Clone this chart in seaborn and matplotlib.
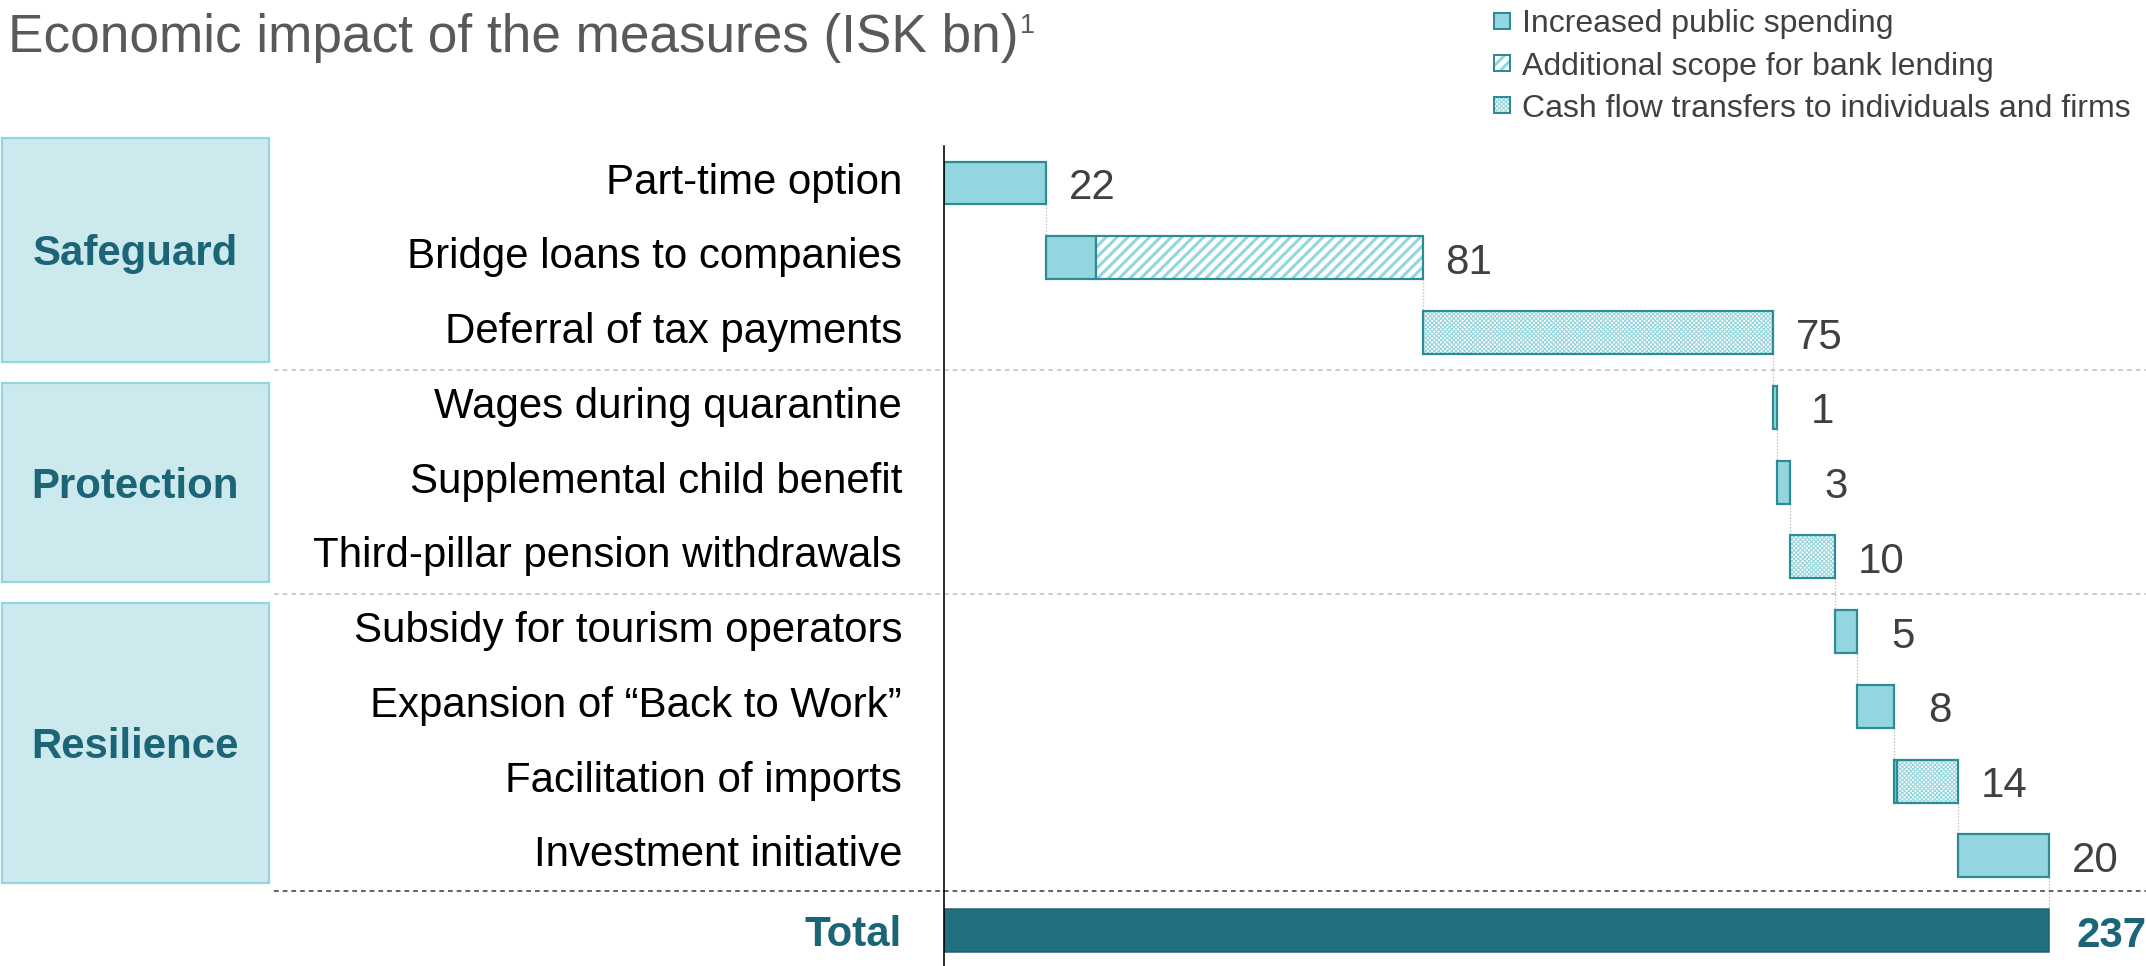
import numpy as np
import pandas as pd
import matplotlib
matplotlib.use("Agg")
import matplotlib.pyplot as plt
import seaborn as sns
from matplotlib.patches import Rectangle
from matplotlib.transforms import blended_transform_factory, ScaledTranslation

# ---------------------------------------------------------------- data (ISK bn)
measures = [
    "Part-time option",
    "Bridge loans to companies",
    "Deferral of tax payments",
    "Wages during quarantine",
    "Supplemental child benefit",
    "Third-pillar pension withdrawals",
    "Subsidy for tourism operators",
    "Expansion of \u201cBack to Work\u201d",
    "Facilitation of imports",
    "Investment initiative",
]
public_spending = [22.0, 10.6, 0.0, 0.8, 2.8, 0.0, 4.7, 7.9, 0.8, 19.6]
bank_lending = [0.0, 70.3, 0.0, 0.0, 0.0, 0.0, 0.0, 0.0, 0.0, 0.0]
cash_transfers = [0.0, 0.0, 75.2, 0.0, 0.0, 9.7, 0.0, 0.0, 13.0, 0.0]

groups = ["Safeguard", "Protection", "Resilience"]
group_sizes = [3, 3, 4]

legend_labels = [
    "Increased public spending",
    "Additional scope for bank lending",
    "Cash flow transfers to individuals and firms",
]
total_label = "Total"
title_text = "Economic impact of the measures (ISK bn)"
footnote_mark = "1"

# ---------------------------------------------------------------- styling
DPI = 130
W, H = 2146, 966


def pt(px):
    """pixels -> points at the output resolution"""
    return px * 72.0 / DPI


FILL = "#93d6df"
EDGE = "#2b8c96"
TOTAL_FILL = "#226f80"
TOTAL_EDGE = "#1d6070"
BOX_FILL = "#cceaed"
BOX_EDGE = "#94d6df"
BOX_TEXT = "#1b6577"
VALUE_TEXT = "#404040"
GRID_GREY = "#c8c8c8"
BAR_W = 0.575
STRIPES = "////"
CHECKER = "x" * 10
STRIPE_LW = 1.7
CHECKER_LW = 0.6

sns.set_style("white")
plt.rcParams["font.family"] = ["Liberation Sans", "DejaVu Sans"]
plt.rcParams["lines.scale_dashes"] = False
plt.rcParams["hatch.linewidth"] = 1.0

LABEL_PT = pt(42)

fig = plt.figure(figsize=(W / DPI, H / DPI), dpi=DPI)


def px_rect(x0, y0, x1, y1):
    return [x0 / W, 1 - y1 / H, (x1 - x0) / W, (y1 - y0) / H]


ax = fig.add_axes(px_rect(944, 146, W, 891))
ax_tot = fig.add_axes(px_rect(944, 891, W, H))

# ---------------------------------------------------------------- waterfall geometry
seg_spend = np.array(public_spending)
seg_lend = np.array(bank_lending)
seg_cash = np.array(cash_transfers)
row_totals = seg_spend + seg_lend + seg_cash
ends = np.cumsum(row_totals)
starts = ends - row_totals
total = ends[-1]


def set_hatch_lw(patches, lw):
    """Give each patch its own hatch line width (works whether the width is
    stored on the artist or read from rcParams while drawing)."""
    for p in patches:
        if hasattr(p, "set_hatch_linewidth"):
            p.set_hatch_linewidth(lw)
        orig_draw = p.draw

        def draw(renderer, _orig=orig_draw, _lw=lw):
            with plt.rc_context({"hatch.linewidth": _lw}):
                _orig(renderer)

        p.draw = draw


def draw_segments(values, lefts, hatch_lw=None, **kw):
    df = pd.DataFrame({"measure": measures, "value": values, "left": lefts})
    df = df[df["value"] > 0]
    n_before = len(ax.patches)
    sns.barplot(data=df, y="measure", x="value", order=measures, orient="y",
                left=df["left"].to_numpy(), width=BAR_W, errorbar=None,
                saturation=1, ax=ax, **kw)
    if hatch_lw is not None:
        set_hatch_lw(ax.patches[n_before:], hatch_lw)
    return df


# increased public spending (solid)
draw_segments(seg_spend, starts, color=FILL, edgecolor=EDGE, linewidth=pt(2.2))
# additional bank lending (diagonal stripes)
draw_segments(seg_lend, starts + seg_spend, hatch_lw=STRIPE_LW,
              color="white", edgecolor=FILL, linewidth=0, hatch=STRIPES)
# cash flow transfers (fine checker)
draw_segments(seg_cash, starts + seg_spend + seg_lend, hatch_lw=CHECKER_LW,
              color="white", edgecolor=FILL, linewidth=0, hatch=CHECKER)
# outlines for the patterned segments
draw_segments(seg_lend, starts + seg_spend, fill=False, color=EDGE, linewidth=pt(2.2))
draw_segments(seg_cash, starts + seg_spend + seg_lend, fill=False, color=EDGE,
              linewidth=pt(2.2))

# total bar
sns.barplot(x=[total], y=[total_label], orient="y", color=TOTAL_FILL, saturation=1,
            edgecolor=TOTAL_EDGE, linewidth=pt(1.5), width=BAR_W, errorbar=None, ax=ax_tot)

# ---------------------------------------------------------------- axes limits & spines
xmax = total * (W - 944) / (2049 - 944)
ROW = 74.76
ax.set_xlim(0, xmax)
ax.set_ylim(-0.495 + (891 - 146) / ROW, -0.495)
ax_tot.set_xlim(0, xmax)
ax_tot.set_ylim((H - 930.8) / ROW, -(930.8 - 891) / ROW)

for a in (ax, ax_tot):
    a.set_xlabel("")
    a.set_ylabel("")
    a.set_xticks([])
    sns.despine(ax=a, top=True, right=True, bottom=True, left=False)
    a.spines["left"].set_color("black")
    a.spines["left"].set_linewidth(pt(1.6))
    a.tick_params(axis="y", length=0, pad=pt(42), labelsize=LABEL_PT, labelcolor="black")
    a.set_facecolor("none")

lift = ScaledTranslation(0, 5 / DPI, fig.dpi_scale_trans)
for lbl in ax.get_yticklabels():
    lbl.set_transform(lbl.get_transform() + lift)

for lbl in ax_tot.get_yticklabels():
    lbl.set_fontweight("bold")
    lbl.set_color(BOX_TEXT)

# connectors between consecutive bars
dots = (0, (pt(1.6), pt(1.6)))
for i in range(len(measures) - 1):
    ax.plot([ends[i], ends[i]], [i + BAR_W / 2, i + 1 - BAR_W / 2], color=GRID_GREY,
            lw=pt(1.3), linestyle=dots, zorder=0.5)
last = len(measures) - 1
ax.plot([ends[last], ends[last]], [last + BAR_W / 2, ax.get_ylim()[0] + (909.3 - 891) / ROW],
        color=GRID_GREY, lw=pt(1.3), linestyle=dots, zorder=0.5, clip_on=False)

# value labels
for i, (end, v) in enumerate(zip(ends, row_totals)):
    ax.annotate(f"{v:.0f}", xy=(end, i), xytext=(pt(46), -pt(16)),
                textcoords="offset points", ha="center", va="baseline",
                fontsize=LABEL_PT, color=VALUE_TEXT, annotation_clip=False)
ax_tot.annotate(f"{total:.0f}", xy=(total, 0), xytext=(pt(28), -pt(16)),
                textcoords="offset points", ha="left", va="baseline",
                fontsize=LABEL_PT, fontweight="bold", color=BOX_TEXT,
                annotation_clip=False)

# group separators
trans = blended_transform_factory(fig.transFigure, ax.transData)
dash = (0, (pt(4.7), pt(4.0)))
for b in np.cumsum(group_sizes)[:-1] - 0.5:
    ax.plot([274 / W, 1], [b, b], transform=trans, color=GRID_GREY, lw=pt(1.8),
            linestyle=dash, clip_on=False)
ax.plot([274 / W, 1], [ax.get_ylim()[0]] * 2, transform=trans, color="#404040",
        lw=pt(1.6), linestyle=dash, clip_on=False)

# group boxes on the left
BOX_Y = [(138, 362), (383, 582), (603, 883)]
for name, (y0, y1) in zip(groups, BOX_Y):
    fig.add_artist(Rectangle((2 / W, 1 - y1 / H), 267 / W, (y1 - y0) / H,
                             transform=fig.transFigure, facecolor=BOX_FILL,
                             edgecolor=BOX_EDGE, lw=pt(2.2)))
    fig.text(135 / W, 1 - (y0 + y1) / 2 / H, name, ha="center", va="center_baseline",
             fontsize=LABEL_PT, fontweight="bold", color=BOX_TEXT)

# legend
LEG_Y = [20.5, 63, 105.4]
leg_hatches = [None, STRIPES, CHECKER]
leg_hatch_lw = [None, STRIPE_LW, CHECKER_LW]
SQ = 16
for yc, label, hatch, hlw in zip(LEG_Y, legend_labels, leg_hatches, leg_hatch_lw):
    xy = (1494 / W, 1 - (yc + SQ / 2) / H)
    if hatch is None:
        fig.add_artist(Rectangle(xy, SQ / W, SQ / H, transform=fig.transFigure,
                                 facecolor=FILL, edgecolor=EDGE, lw=pt(2)))
    else:
        r = Rectangle(xy, SQ / W, SQ / H, transform=fig.transFigure, facecolor="white",
                      edgecolor=FILL, lw=0, hatch=hatch)
        set_hatch_lw([r], hlw)
        fig.add_artist(r)
        fig.add_artist(Rectangle(xy, SQ / W, SQ / H, transform=fig.transFigure,
                                 facecolor="none", edgecolor=EDGE, lw=pt(2)))
    fig.text(1522 / W, 1 - yc / H, label, ha="left", va="center_baseline",
             fontsize=pt(32), color=VALUE_TEXT)

# title with footnote mark
title = fig.text(8 / W, 1 - 52 / H, title_text, ha="left", va="baseline",
                 fontsize=pt(53.1), color="#595959")
renderer = fig.canvas.get_renderer()
bb = title.get_window_extent(renderer)
fig.text((bb.x1 + 1) / W, 1 - 33 / H, footnote_mark, ha="left", va="baseline",
         fontsize=pt(27), color="#595959")

fig.savefig("out.png", dpi=DPI)
